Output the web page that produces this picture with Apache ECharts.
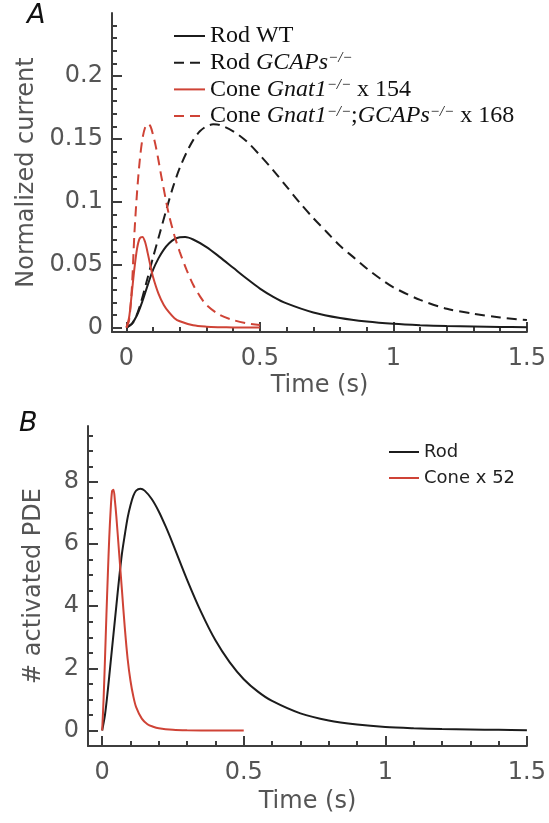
<!DOCTYPE html>
<html>
<head>
<meta charset="utf-8">
<title>Rod and cone responses</title>
<script src="https://cdn.jsdelivr.net/npm/echarts@6/dist/echarts.min.js"></script>
<style>
  html, body { margin: 0; padding: 0; background: #fff; }
  #chart { width: 549px; height: 823px; }
</style>
</head>
<body>
<div id="chart"></div>
<script>
// ---- Panel A: normalized photocurrent ----
const rodWtT = [0, 0.02, 0.04, 0.06, 0.08, 0.10, 0.12, 0.14, 0.16, 0.18, 0.20, 0.22, 0.25, 0.30, 0.35, 0.40, 0.45, 0.50, 0.55, 0.60, 0.70, 0.80, 0.90, 1.00, 1.10, 1.20, 1.30, 1.40, 1.50];
const rodWtV = [0, 0.003, 0.010, 0.021, 0.034, 0.046, 0.055, 0.062, 0.067, 0.0703, 0.0718, 0.072, 0.070, 0.064, 0.056, 0.0475, 0.039, 0.031, 0.0245, 0.0192, 0.012, 0.0076, 0.0048, 0.0030, 0.0019, 0.0012, 0.0008, 0.0005, 0.0003];

const rodGcapsT = [0, 0.025, 0.05, 0.075, 0.10, 0.125, 0.15, 0.175, 0.20, 0.225, 0.25, 0.275, 0.30, 0.325, 0.35, 0.40, 0.45, 0.50, 0.55, 0.60, 0.65, 0.70, 0.75, 0.80, 0.85, 0.90, 0.95, 1.00, 1.10, 1.20, 1.30, 1.40, 1.50];
const rodGcapsV = [0, 0.004, 0.017, 0.036, 0.056, 0.075, 0.094, 0.112, 0.127, 0.139, 0.149, 0.156, 0.160, 0.1615, 0.161, 0.156, 0.148, 0.137, 0.125, 0.112, 0.099, 0.087, 0.076, 0.065, 0.056, 0.047, 0.039, 0.032, 0.022, 0.015, 0.011, 0.008, 0.006];

const coneT = [0, 0.01, 0.02, 0.03, 0.04, 0.05, 0.06, 0.07, 0.08, 0.09, 0.10, 0.12, 0.14, 0.16, 0.18, 0.20, 0.25, 0.30, 0.35, 0.40, 0.45, 0.50];
const coneV = [0, 0.008, 0.027, 0.047, 0.063, 0.071, 0.072, 0.068, 0.059, 0.049, 0.040, 0.027, 0.018, 0.012, 0.0075, 0.005, 0.0018, 0.0007, 0.0003, 0.0001, 0, 0];

const coneGcapsT = [0, 0.01, 0.02, 0.03, 0.04, 0.05, 0.06, 0.07, 0.08, 0.09, 0.10, 0.11, 0.12, 0.13, 0.14, 0.15, 0.16, 0.18, 0.20, 0.225, 0.25, 0.275, 0.30, 0.35, 0.40, 0.45, 0.50];
const coneGcapsV = [0, 0.006, 0.030, 0.075, 0.108, 0.133, 0.150, 0.159, 0.162, 0.160, 0.153, 0.144, 0.133, 0.121, 0.110, 0.099, 0.089, 0.073, 0.060, 0.046, 0.034, 0.025, 0.018, 0.010, 0.006, 0.0035, 0.002];

// ---- Panel B: number of activated PDE ----
const pdeRodT = [0, 0.01, 0.02, 0.03, 0.04, 0.05, 0.06, 0.07, 0.08, 0.09, 0.10, 0.11, 0.12, 0.135, 0.15, 0.175, 0.20, 0.225, 0.25, 0.30, 0.35, 0.40, 0.45, 0.50, 0.55, 0.60, 0.70, 0.80, 0.90, 1.00, 1.10, 1.20, 1.30, 1.40, 1.50];
const pdeRodV = [0, 0.5, 1.3, 2.2, 3.1, 4.0, 4.9, 5.7, 6.3, 6.85, 7.25, 7.55, 7.72, 7.78, 7.72, 7.45, 7.05, 6.55, 6.0, 4.85, 3.8, 2.9, 2.2, 1.65, 1.25, 0.95, 0.55, 0.32, 0.19, 0.11, 0.07, 0.045, 0.03, 0.02, 0.01];

const pdeConeT = [0, 0.005, 0.01, 0.015, 0.02, 0.025, 0.03, 0.035, 0.04, 0.045, 0.05, 0.06, 0.07, 0.08, 0.09, 0.10, 0.11, 0.12, 0.14, 0.16, 0.18, 0.20, 0.25, 0.30, 0.40, 0.50];
const pdeConeV = [0, 1.0, 2.3, 3.7, 5.0, 6.2, 7.1, 7.7, 7.75, 7.4, 6.9, 5.7, 4.5, 3.3, 2.3, 1.6, 1.1, 0.75, 0.38, 0.2, 0.12, 0.07, 0.02, 0.005, 0, 0];

// ---- tick values ----
const aTickX = [0, 0.5, 1, 1.5];
const aTickY = [0, 0.05, 0.1, 0.15, 0.2];
const bTickX = [0, 0.5, 1, 1.5];
const bTickY = [0, 2, 4, 6, 8];

function minorTicks(start, stop, step, majors) {
  const out = [];
  const n = Math.round((stop - start) / step);
  for (let i = 0; i <= n; i++) {
    const v = +(start + i * step).toFixed(6);
    if (!majors.some(m => Math.abs(m - v) < 1e-9)) out.push(v);
  }
  return out;
}
const aMinorX = minorTicks(0, 1.5, 0.1, aTickX);
const aMinorY = minorTicks(0, 0.24, 0.01, aTickY);
const bMinorX = minorTicks(0, 1.5, 0.1, bTickX);
const bMinorY = minorTicks(0, 9.5, 0.5, bTickY);

const pairs = (t, v) => t.map((x, i) => [x, v[i]]);

const AXIS = '#3d3d3d';
const LABEL = '#555555';
const BLACK = '#1c1c1c';
const RED = '#cf4336';
const SANS = '"DejaVu Sans", sans-serif';
const SERIF = '"Liberation Serif", serif';

function majorAxis(dim, grid, min, max, ticks, name, nameGap, pos) {
  return {
    type: 'value', gridIndex: grid, min: min, max: max, position: pos,
    name: name, nameLocation: 'middle', nameGap: nameGap,
    nameTextStyle: { fontFamily: SANS, fontSize: 24, color: LABEL },
    axisLine: { show: true, onZero: false, lineStyle: { color: AXIS, width: 2 } },
    axisTick: { show: true, inside: true, length: 10, customValues: ticks, lineStyle: { color: AXIS, width: 2 } },
    axisLabel: { show: true, customValues: ticks, fontFamily: SANS, fontSize: 24, color: LABEL,
                 margin: dim === 'x' ? 15 : 9 },
    splitLine: { show: false }
  };
}
function minorAxis(grid, min, max, ticks, pos) {
  return {
    type: 'value', gridIndex: grid, min: min, max: max, position: pos,
    axisLine: { show: false, onZero: false },
    axisTick: { show: true, inside: true, length: 5, customValues: ticks, lineStyle: { color: AXIS, width: 2 } },
    axisLabel: { show: false },
    splitLine: { show: false }
  };
}

const lineSeries = (name, xi, data, color, dashed) => ({
  name: name, type: 'line', xAxisIndex: xi, yAxisIndex: xi,
  data: data, showSymbol: false, symbol: 'none', smooth: 0.3,
  lineStyle: { color: color, width: 2, type: dashed ? [10, 6] : 'solid' },
  itemStyle: { color: color },
  z: 3
});

const serifRich = {
  r: { fontFamily: SERIF, fontSize: 24, color: '#111', lineHeight: 24 },
  i: { fontFamily: SERIF, fontSize: 24, fontStyle: 'italic', color: '#111', lineHeight: 24 },
  s: { fontFamily: SERIF, fontSize: 15, fontStyle: 'italic', color: '#111', lineHeight: 12, verticalAlign: 'top' }
};
const legendText = {
  'Rod WT': '{r|Rod WT}',
  'Rod GCAPs': '{r|Rod }{i|GCAPs}{s|\u2212/\u2212}',
  'Cone Gnat1': '{r|Cone }{i|Gnat1}{s|\u2212/\u2212}{r| x 154}',
  'Cone Gnat1 GCAPs': '{r|Cone }{i|Gnat1}{s|\u2212/\u2212}{r|;}{i|GCAPs}{s|\u2212/\u2212}{r| x 168}'
};

const chart = echarts.init(document.getElementById('chart'), null, { renderer: 'canvas' });
chart.setOption({
  animation: false,
  backgroundColor: '#fff',
  title: [
    { text: 'A', left: 27, top: 2, padding: 0, textStyle: { fontFamily: SANS, fontStyle: 'italic', fontWeight: 'normal', fontSize: 27, color: '#111' } },
    { text: 'B', left: 19, top: 410, padding: 0, textStyle: { fontFamily: SANS, fontStyle: 'italic', fontWeight: 'normal', fontSize: 27, color: '#111' } }
  ],
  grid: [
    { left: 112, top: 13, width: 416, height: 319 },
    { left: 88, top: 426, width: 439, height: 320 }
  ],
  xAxis: [
    majorAxis('x', 0, -0.054, 1.5, aTickX, 'Time (s)', 42, 'bottom'),
    minorAxis(0, -0.054, 1.5, aMinorX, 'bottom'),
    majorAxis('x', 1, -0.05, 1.5, bTickX, 'Time (s)', 44, 'bottom'),
    minorAxis(1, -0.05, 1.5, bMinorX, 'bottom')
  ],
  yAxis: [
    majorAxis('y', 0, -0.0035, 0.25, aTickY, 'Normalized current', 72, 'left'),
    minorAxis(0, -0.0035, 0.25, aMinorY, 'left'),
    majorAxis('y', 1, -0.5, 9.8, bTickY, '# activated PDE', 42, 'left'),
    minorAxis(1, -0.5, 9.8, bMinorY, 'left')
  ],
  legend: [
    {
      data: ['Rod WT', 'Rod GCAPs', 'Cone Gnat1', 'Cone Gnat1 GCAPs'],
      orient: 'vertical', left: 173, top: 24, padding: 0,
      itemWidth: 31, itemHeight: 14, itemGap: 2.7,
      selectedMode: false,
      itemStyle: { opacity: 0 },
      formatter: n => legendText[n],
      textStyle: { rich: serifRich }
    },
    {
      data: ['Rod', 'Cone x 52'],
      orient: 'vertical', left: 388, top: 441, padding: 0,
      itemWidth: 30, itemHeight: 14, itemGap: 4,
      selectedMode: false,
      itemStyle: { opacity: 0 },
      textStyle: { fontFamily: SANS, fontSize: 18, lineHeight: 22, color: '#222' }
    }
  ],
  series: [
    lineSeries('Rod WT', 0, pairs(rodWtT, rodWtV), BLACK, false),
    lineSeries('Rod GCAPs', 0, pairs(rodGcapsT, rodGcapsV), BLACK, true),
    lineSeries('Cone Gnat1', 0, pairs(coneT, coneV), RED, false),
    lineSeries('Cone Gnat1 GCAPs', 0, pairs(coneGcapsT, coneGcapsV), RED, true),
    lineSeries('Rod', 2, pairs(pdeRodT, pdeRodV), BLACK, false),
    lineSeries('Cone x 52', 2, pairs(pdeConeT, pdeConeV), RED, false)
  ]
});
</script>
</body>
</html>
